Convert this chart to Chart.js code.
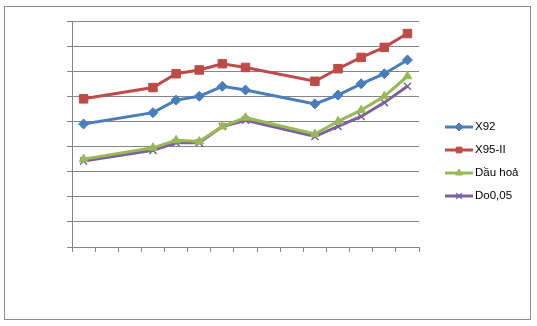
<!DOCTYPE html>
<html>
<head>
<meta charset="utf-8">
<script src="https://cdn.jsdelivr.net/npm/chart.js@4/dist/chart.umd.min.js"></script>
<style>
  html, body { margin: 0; padding: 0; background: #fff; }
  #wrap { width: 537px; height: 326px; }
</style>
</head>
<body>
<div id="wrap"><canvas id="lineChart"></canvas></div>
<script>
// các kỳ điều chỉnh giá (không hiển thị nhãn trục)
const periods = ["1", "2", "3", "4", "5", "6", "7", "8", "9", "10", "11", "12", "13", "14", "15"];

// giá theo từng kỳ, null = kỳ không có số liệu
const x92 = [9800, null, null, 10700, 11700, 12000, 12800, 12500, null, null, 11400, 12100, 13000, 13800, 14900];
const x95 = [11800, null, null, 12700, 13800, 14100, 14600, 14300, null, null, 13200, 14200, 15100, 15900, 17000];
const dauHoa = [7000, null, null, 7900, 8500, 8400, 9600, 10300, null, null, 9000, 10000, 10900, 12000, 13600];
const do005 = [6850, null, null, 7700, 8300, 8300, 9600, 10100, null, null, 8800, 9600, 10400, 11500, 12800];

const seriesNames = ["X92", "X95-II", "Dầu hoả", "Do0,05"];

const axisColor = "#868686";

function makeSet(label, data, color, style, radius) {
    return {
        label: label,
        data: data,
        borderColor: color,
        backgroundColor: color,
        borderWidth: 3,
        pointStyle: style,
        pointRadius: radius,
        pointHoverRadius: radius,
        pointBorderWidth: style === "crossRot" ? 1.5 : 1,
        pointBorderColor: style === "crossRot" ? "#7a6296" : color,
        spanGaps: true,
        tension: 0
    };
}

// khung viền ngoài
const frame = {
    id: "frame",
    beforeDraw(chart) {
        const c = chart.ctx;
        c.save();
        c.fillStyle = "#fff";
        c.fillRect(0, 0, chart.width, chart.height);
        c.strokeStyle = "#8c8c8c";
        c.lineWidth = 1;
        c.strokeRect(4.5, 6.5, 526, 313);
        c.restore();
    }
};

// chú thích kiểu Excel: đoạn thẳng + ký hiệu điểm
const sideLegend = {
    id: "sideLegend",
    afterDraw(chart) {
        const c = chart.ctx;
        c.save();
        chart.data.datasets.forEach((ds, i) => {
            const y = 127 + i * 23;
            c.strokeStyle = ds.borderColor;
            c.lineWidth = 3;
            c.beginPath();
            c.moveTo(445, y);
            c.lineTo(473, y);
            c.stroke();
            c.fillStyle = ds.backgroundColor;
            c.strokeStyle = ds.pointBorderColor;
            c.lineWidth = ds.pointBorderWidth;
            Chart.helpers.drawPoint(c, {
                pointStyle: ds.pointStyle,
                radius: 4,
                rotation: 0,
                borderWidth: ds.pointBorderWidth
            }, 459, y);
            c.fillStyle = "#000";
            c.font = "11.5px 'Liberation Sans', Arial, sans-serif";
            c.textBaseline = "middle";
            c.fillText(ds.label, 475, y);
        });
        c.restore();
    }
};

new Chart(document.getElementById("lineChart"), {
    type: "line",
    data: {
        labels: periods,
        datasets: [
            makeSet(seriesNames[0], x92, "#4a7ebb", "rectRot", 5),
            makeSet(seriesNames[1], x95, "#be4b48", "rect", 6),
            makeSet(seriesNames[2], dauHoa, "#98b954", "triangle", 5),
            makeSet(seriesNames[3], do005, "#7d60a0", "crossRot", 5)
        ]
    },
    plugins: [frame, sideLegend],
    options: {
        responsive: true,
        maintainAspectRatio: false,
        animation: false,
        layout: {
            padding: { left: 67, right: 118, top: 21, bottom: 74 }
        },
        plugins: {
            legend: { display: false },
            tooltip: { enabled: false }
        },
        scales: {
            x: {
                offset: true,
                border: { color: axisColor, width: 1 },
                grid: {
                    offset: true,
                    drawOnChartArea: false,
                    drawTicks: true,
                    tickLength: 5,
                    color: axisColor
                },
                ticks: { display: false }
            },
            y: {
                min: 0,
                max: 18000,
                border: { color: axisColor, width: 1 },
                grid: {
                    color: axisColor,
                    tickLength: 5
                },
                ticks: { display: false, stepSize: 2000 }
            }
        }
    }
});
</script>
</body>
</html>
